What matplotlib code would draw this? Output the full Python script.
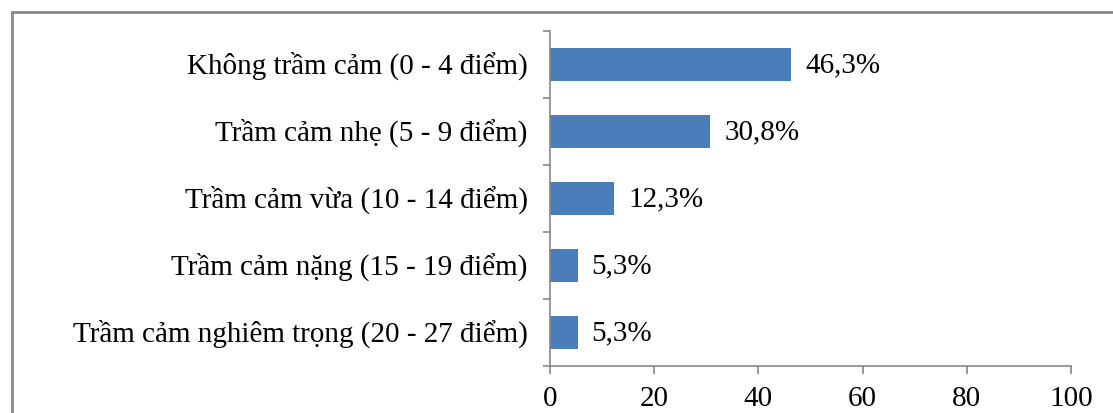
import matplotlib.pyplot as plt
import matplotlib.patches as patches

# Data
categories = [
    "Không trầm cảm (0 - 4 điểm)",
    "Trầm cảm nhẹ (5 - 9 điểm)",
    "Trầm cảm vừa (10 - 14 điểm)",
    "Trầm cảm nặng (15 - 19 điểm)",
    "Trầm cảm nghiêm trọng (20 - 27 điểm)",
]
values = [46.3, 30.8, 12.3, 5.3, 5.3]
value_labels = ["46,3%", "30,8%", "12,3%", "5,3%", "5,3%"]
x_ticks = [0, 20, 40, 60, 80, 100]

plt.rcParams['font.family'] = ['Liberation Serif', 'DejaVu Serif']
FS = 21

W, H = 1113, 414
fig = plt.figure(figsize=(W / 100, H / 100), dpi=100)
ax = fig.add_axes([550 / W, 1 - 367 / H, (1071 - 550) / W, (367 - 32) / H])

axis_gray = '#868686'
pos = list(range(len(categories)))
ax.barh(pos, values, height=0.5, color='#4A7EBB')
ax.set_ylim(len(categories) - 0.5, -0.5)
ax.set_xlim(0, 100)

for p, v, lab in zip(pos, values, value_labels):
    ax.annotate(lab, (v, p), xytext=(10, 0), textcoords='offset points',
                va='center', ha='left', fontsize=FS)

# category names as text, tick marks at the band boundaries
ax.set_yticks([p - 0.5 for p in pos] + [len(pos) - 0.5])
ax.set_yticklabels([])
for p, c in zip(pos, categories):
    ax.text(-0.043, p, c, transform=ax.get_yaxis_transform(), ha='right',
            va='center', fontsize=FS)
ax.set_xticks(x_ticks)
ax.set_xticklabels([str(t) for t in x_ticks], fontsize=FS)

for side in ['top', 'right']:
    ax.spines[side].set_visible(False)
for side in ['left', 'bottom']:
    ax.spines[side].set_color(axis_gray)
    ax.spines[side].set_linewidth(1.2)
ax.tick_params(axis='y', length=5, color=axis_gray, width=1.2)
ax.tick_params(axis='x', length=6, color=axis_gray, width=1.2, pad=8)

# outer frame, cut off on the right and bottom like the picture
frame = patches.Rectangle((12 / W, -0.1), 1.2, 1 - 13 / H + 0.1, transform=fig.transFigure,
                          fill=False, edgecolor='#8a8a8a', linewidth=2, clip_on=False)
fig.patches.append(frame)

fig.savefig('out.png', dpi=100)
